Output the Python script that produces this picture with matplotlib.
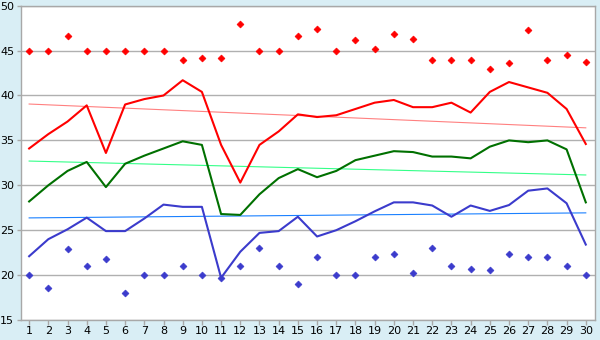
import matplotlib
matplotlib.use("Agg")
import matplotlib.pyplot as plt
import numpy as np

days = list(range(1, 31))
x_labels = [str(d) for d in days]

red_line = [34.1, 35.7, 37.1, 38.9, 33.6, 39.0, 39.6, 40.0, 41.7, 40.4,
            34.5, 30.3, 34.5, 36.0, 37.9, 37.6, 37.8, 38.5, 39.2, 39.5,
            38.7, 38.7, 39.2, 38.1, 40.4, 41.5, 40.9, 40.3, 38.5, 34.6]
green_line = [28.2, 30.0, 31.6, 32.6, 29.8, 32.4, 33.3, 34.1, 34.9, 34.5,
              26.8, 26.7, 29.0, 30.8, 31.8, 30.9, 31.6, 32.8, 33.3, 33.8,
              33.7, 33.2, 33.2, 33.0, 34.3, 35.0, 34.8, 35.0, 34.0, 28.1]
blue_line = [22.1, 24.0, 25.1, 26.4, 24.9, 24.9, 26.3, 27.85, 27.6, 27.6,
             19.7, 22.6, 24.7, 24.9, 26.5, 24.3, 25.0, 26.0, 27.1, 28.1,
             28.1, 27.75, 26.5, 27.75, 27.15, 27.8, 29.4, 29.65, 28.0, 23.4]
red_points = [45.0, 45.0, 46.6, 45.0, 45.0, 45.0, 45.0, 45.0, 44.0, 44.2,
              44.2, 48.0, 45.0, 45.0, 46.6, 47.4, 45.0, 46.15, 45.2, 46.8,
              46.3, 44.0, 44.0, 44.0, 43.0, 43.6, 47.3, 43.9, 44.5, 43.7]
blue_points = [20.0, 18.6, 22.9, 21.0, 21.8, 18.0, 20.0, 20.0, 21.0, 20.0,
               19.7, 21.0, 23.0, 21.0, 19.0, 22.0, 20.0, 20.0, 22.0, 22.3,
               20.2, 23.0, 21.0, 20.7, 20.6, 22.4, 22.0, 22.0, 21.0, 20.0]
red_trend = [39.05, 36.4]
green_trend = [32.7, 31.15]
blue_trend = [26.37, 26.93]
trend_x = [1, 30]

bg = "#d9eef5"
fig = plt.figure(figsize=(6, 3.4), dpi=100, facecolor=bg)
ax = fig.add_axes([20.5/600, 20/340, (595-20.5)/600, (320-5.7)/340])
ax.set_facecolor("white")

ax.set_xlim(0.55, 30.48)
ax.set_ylim(15, 50)
ax.set_yticks([15, 20, 25, 30, 35, 40, 45, 50])
ax.set_xticks(days)
ax.set_xticklabels(x_labels)

ax.grid(axis="y", color="#b0b0b0", linewidth=1.0)
ax.set_axisbelow(True)
for s in ["left", "right", "bottom", "top"]:
    ax.spines[s].set_color("#a8a8a8")
    ax.spines[s].set_linewidth(1.0)
ax.tick_params(axis="both", colors="#a8a8a8", labelcolor="black",
               labelsize=8, width=1)
ax.tick_params(axis="x", length=3.6, pad=1)
ax.tick_params(axis="y", length=3.0, pad=1.5)

ax.plot(trend_x, red_trend, color="#ff8080", linewidth=0.8)
ax.plot(trend_x, green_trend, color="#33ff88", linewidth=0.8)
ax.plot(trend_x, blue_trend, color="#1a80ff", linewidth=0.8)

ax.plot(days, red_line, color="#ff0000", linewidth=1.5)
ax.plot(days, green_line, color="#007000", linewidth=1.5)
ax.plot(days, blue_line, color="#3b3bcc", linewidth=1.5)

ax.plot(days, red_points, linestyle="none", marker="D", markersize=3.5,
        color="#ff0000", markeredgewidth=0.5)
ax.plot(days, blue_points, linestyle="none", marker="D", markersize=3.5,
        color="#3b3bcc", markeredgewidth=0.5)

fig.savefig("out.png", dpi=100, facecolor=bg)
